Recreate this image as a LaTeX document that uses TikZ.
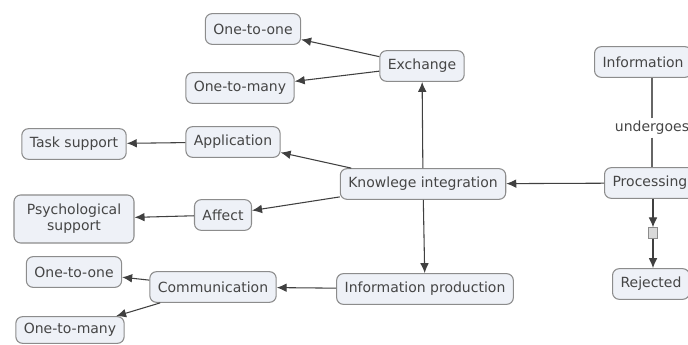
\documentclass[tikz,border=0pt]{standalone}
\usepackage{fontspec}
\setmainfont{DejaVu Sans}
\usepackage{tikz}
\usetikzlibrary{arrows.meta}

\definecolor{boxfill}{HTML}{EEF1F7}
\definecolor{boxline}{HTML}{8C8C8C}
\definecolor{txtgray}{HTML}{454545}

\begin{document}
\begin{tikzpicture}[x=0.75pt, y=-0.75pt]

% Set the overall frame of the map
\clip (0,0) rectangle (688,345);

% Define styles for concepts and links
\tikzstyle{concepto} = [rectangle, rounded corners=5pt, draw=boxline, line width=0.8pt,
  fill=boxfill, text=txtgray, font=\fontsize{10.5}{12}\selectfont,
  inner xsep=6pt, minimum height=23pt, align=center]
\tikzstyle{enlace} = [text=txtgray, font=\fontsize{10.5}{12}\selectfont, inner sep=2pt]
\tikzstyle{flecha} = [draw=black!75, line width=0.8pt, -{Latex[length=7.5pt, width=6.5pt]}]
\tikzstyle{linea} = [draw=black!60, line width=0.8pt]

% Concepts
\node[concepto] (ki) at (423,184) {Knowlege integration};
\node[concepto] (exch) at (422,66) {Exchange};
\node[concepto] (onetoone) at (253,29) {One-to-one};
\node[concepto] (onetomany) at (240,88) {One-to-many};
\node[concepto] (app) at (233,142) {Application};
\node[concepto] (task) at (74,144) {Task support};
\node[concepto] (affect) at (223,215) {Affect};
\node[concepto, minimum height=36pt, minimum width=90pt] (psych) at (74,219) {Psychological\\support};
\node[concepto] (infoprod) at (425,289) {Information production};
\node[concepto] (comm) at (213,287) {Communication};
\node[concepto] (onetoonebot) at (74,272) {One-to-one};
\node[concepto, minimum height=20pt] (onetomanybot) at (70,330) {One-to-many};

% Concepts cut by the right edge
\node[concepto, anchor=west] (info) at (594,62) {Information};
\node[concepto, anchor=west] (proc) at (604,183) {Processing};
\node[concepto, anchor=west] (rej) at (612,284) {Rejected};

% Link phrases
\node[enlace] (undergoes) at (652,128) {undergoes};
\node[rectangle, draw=boxline, fill=black!15, minimum width=7pt, minimum height=8pt, inner sep=0pt] (mini) at (653,233) {};

% Connectors
\draw[linea] (undergoes) -- (undergoes |- info.south);
\draw[linea] (undergoes) -- (undergoes |- proc.north);
\draw[flecha] (proc.south -| mini) -- (mini);
\draw[flecha] (mini) -- (rej.north -| mini);
\draw[flecha] (proc) -- (ki);

\draw[flecha] (ki) -- (exch);
\draw[flecha] (exch) -- (onetoone);
\draw[flecha] (exch) -- (onetomany);
\draw[flecha] (ki) -- (app);
\draw[flecha] (app) -- (task);
\draw[flecha] (ki) -- (affect);
\draw[flecha] (affect) -- (psych);
\draw[flecha] (ki) -- (infoprod);
\draw[flecha] (infoprod) -- (comm);
\draw[flecha] (comm) -- (onetoonebot);
\draw[flecha] (comm) -- (onetomanybot);

\end{tikzpicture}
\end{document}
